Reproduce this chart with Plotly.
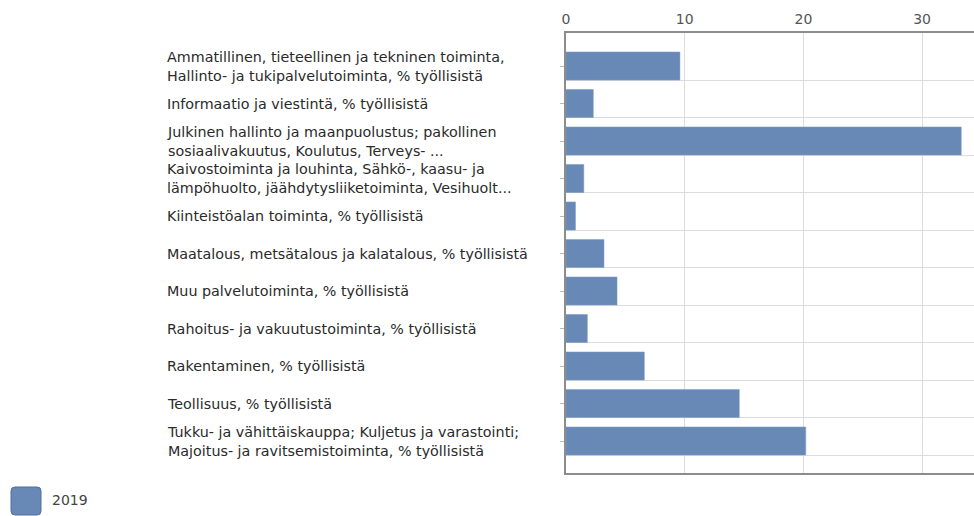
import plotly.graph_objects as go

categories = [
    "Ammatillinen, tieteellinen ja tekninen toiminta,<br>Hallinto- ja tukipalvelutoiminta, % työllisistä",
    "Informaatio ja viestintä, % työllisistä",
    "Julkinen hallinto ja maanpuolustus; pakollinen<br>sosiaalivakuutus, Koulutus, Terveys- ...",
    "Kaivostoiminta ja louhinta, Sähkö-, kaasu- ja<br>lämpöhuolto, jäähdytysliiketoiminta, Vesihuolt...",
    "Kiinteistöalan toiminta, % työllisistä",
    "Maatalous, metsätalous ja kalatalous, % työllisistä",
    "Muu palvelutoiminta, % työllisistä",
    "Rahoitus- ja vakuutustoiminta, % työllisistä",
    "Rakentaminen, % työllisistä",
    "Teollisuus, % työllisistä",
    "Tukku- ja vähittäiskauppa; Kuljetus ja varastointi;<br>Majoitus- ja ravitsemistoiminta, % työllisistä",
]
values_2019 = [9.6, 2.3, 33.3, 1.5, 0.8, 3.2, 4.3, 1.8, 6.6, 14.6, 20.2]
series_name = "2019"
x_ticks = [0, 10, 20, 30]

idx = list(range(len(categories)))
bar_color = "#6889b6"

W, H = 974, 516
L, R, T, B = 566, 0, 33, 43
pw = W - L - R
ph = H - T - B


def px(x):
    return (x - L) / pw


def py(y):
    return (H - B - y) / ph


fig = go.Figure()
fig.add_trace(go.Bar(
    x=values_2019, y=idx, orientation="h", name=series_name,
    marker=dict(color=bar_color, line=dict(color="#7f9cc4", width=0.5)),
    showlegend=False, hoverinfo="x",
))

# left-aligned category labels
for i, lab in zip(idx, categories):
    fig.add_annotation(
        x=px(165), xref="paper", y=i, yref="y", text=lab, showarrow=False,
        xanchor="left", align="left", yanchor="middle",
        font=dict(family="DejaVu Sans", size=14.3, color="#2a2a2a"),
    )

# legend: rounded square + label
x0, x1, y0, y1, r = 11, 41, 487, 515, 4
path = (
    f"M {px(x0 + r)} {py(y0)} L {px(x1 - r)} {py(y0)} "
    f"Q {px(x1)} {py(y0)} {px(x1)} {py(y0 + r)} L {px(x1)} {py(y1 - r)} "
    f"Q {px(x1)} {py(y1)} {px(x1 - r)} {py(y1)} L {px(x0 + r)} {py(y1)} "
    f"Q {px(x0)} {py(y1)} {px(x0)} {py(y1 - r)} L {px(x0)} {py(y0 + r)} "
    f"Q {px(x0)} {py(y0)} {px(x0 + r)} {py(y0)} Z"
)
fig.add_shape(type="path", xref="paper", yref="paper", path=path,
              line=dict(color="#4f6f9c", width=1), fillcolor=bar_color,
              layer="above")
fig.add_annotation(x=px(50), xref="paper", y=py(500), yref="paper",
                   text=series_name, showarrow=False, xanchor="left", yanchor="middle",
                   font=dict(family="DejaVu Sans", size=14, color="#444444"))

fig.update_layout(
    width=W, height=H,
    margin=dict(l=L, r=R, t=T, b=B),
    paper_bgcolor="white", plot_bgcolor="white",
    bargap=0.25,
    xaxis=dict(
        side="top", range=[0, pw / 11.87], tickvals=x_ticks,
        showgrid=True, gridcolor="#dcdcdc", gridwidth=1,
        showline=True, linecolor="#8c8c8c", linewidth=1.5, mirror=True,
        zeroline=False, ticks="", ticklabelstandoff=2,
        tickfont=dict(family="DejaVu Sans", size=14, color="#555555"),
    ),
    yaxis=dict(
        range=[10.853, -0.88], tickvals=idx, showticklabels=False,
        ticks="outside", ticklen=4, tickcolor="#bbbbbb",
        showgrid=False, zeroline=False,
        showline=True, linecolor="#8c8c8c", linewidth=1.5,
        minor=dict(tickvals=[i + 0.375 for i in idx], showgrid=True,
                   gridcolor="#dcdcdc", gridwidth=1, ticks=""),
    ),
)

fig.write_html(
    "out.html",
    config={"displayModeBar": False},
    post_script="document.body.style.margin='0';document.body.style.overflow='hidden';",
)
